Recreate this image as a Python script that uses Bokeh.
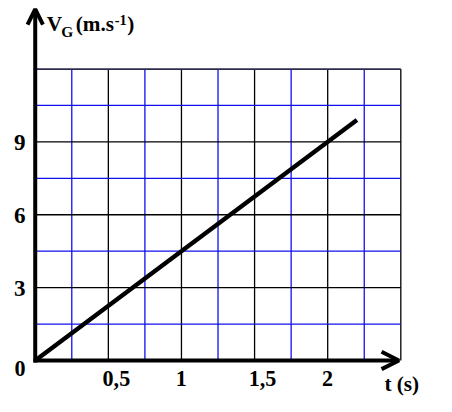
from bokeh.plotting import figure
from bokeh.models import Range1d, Arrow, OpenHead
from bokeh.core.properties import value
from bokeh.embed import file_html
from bokeh.resources import INLINE

# ---- data ----
t_line = [0.0, 2.2]
v_line = [0.0, 9.9]
t_grid = [0.25, 0.5, 0.75, 1.0, 1.25, 1.5, 1.75, 2.0, 2.25, 2.5]
v_grid = [1.5, 3.0, 4.5, 6.0, 7.5, 9.0, 10.5, 12.0]
x_tick_values = [0.5, 1.0, 1.5, 2.0]
x_tick_labels = ["0,5", "1", "1,5", "2"]
y_tick_values = [3.0, 6.0, 9.0]
y_tick_labels = ["3", "6", "9"]
origin_label = "0"
x_title = "t (s)"
y_title_parts = ["V", "G", "(m.s", "-1", ")"]
t_max = 2.5
v_max = 12.0
t_arrow_tip = 2.487
v_arrow_tip = 14.466

W, H = 436, 396
SX, SY = W / 452.0, H / 412.0
K = (SX + SY) / 2.0

def fs(px):
    return "%.1fpx" % (px * K)

FONT = value("Liberation Serif")
BLUE = "#1010ee"

p = figure(width=W, height=H, output_backend="svg", toolbar_location=None,
           x_range=Range1d(-0.23747, 2.74406), y_range=Range1d(-1.4841, 14.822),
           x_axis_type=None, y_axis_type=None, min_border=0)
p.outline_line_color = None
p.xgrid.visible = False
p.ygrid.visible = False
p.background_fill_color = "white"
p.border_fill_color = "white"

# vertical grid lines
vx = t_grid
vcol = ["#000000" if abs((t / 0.5) - round(t / 0.5)) < 1e-9 else BLUE for t in vx]
p.segment(x0=vx, y0=[0.0] * len(vx), x1=vx, y1=[v_max] * len(vx),
          line_color=vcol, line_width=1.3)

# horizontal grid lines
hy = v_grid
hcol = []
for v in hy:
    if v == v_max:
        hcol.append("#2c2c50")
    elif abs((v / 3.0) - round(v / 3.0)) < 1e-9:
        hcol.append("#000000")
    else:
        hcol.append(BLUE)
p.segment(x0=[0.0] * len(hy), y0=hy, x1=[t_max] * len(hy), y1=hy,
          line_color=hcol, line_width=[1.8 if v == v_max else 1.3 for v in hy])

# data line
p.line(t_line, v_line, line_color="black", line_width=4.4)

# axes with arrows
p.add_layout(Arrow(end=OpenHead(size=18 * K, line_width=4, line_color="black"),
                   x_start=-0.012, y_start=0.0, x_end=t_arrow_tip, y_end=0.0,
                   line_width=4, line_color="black"))
p.add_layout(Arrow(end=OpenHead(size=16 * K, line_width=4, line_color="black"),
                   x_start=0.0, y_start=-0.08, x_end=0.0, y_end=v_arrow_tip,
                   line_width=4, line_color="black"))

common = dict(text_font=FONT, text_font_style="bold", text_color="black",
              text_baseline="middle")

# x tick labels
p.text(x=x_tick_values, y=[0.0] * len(x_tick_values), text=x_tick_labels,
       text_font_size=fs(23), text_align="left",
       x_offset=-6 * SX, y_offset=18.7 * SY, **common)
# y tick labels
p.text(x=[0.0] * len(y_tick_values), y=y_tick_values, text=y_tick_labels,
       text_font_size=fs(24), text_align="right",
       x_offset=-10 * SX, y_offset=1 * SY, **common)
# origin
p.text(x=[0.0], y=[0.0], text=[origin_label], text_font_size=fs(23),
       text_align="right", x_offset=-10 * SX, y_offset=8.7 * SY, **common)
# x title
p.text(x=[t_max], y=[0.0], text=[x_title], text_font_size=fs(22),
       text_align="left", x_offset=-17 * SX, y_offset=24.0 * SY, **common)

# y title pieces
piece_style = [
    (12, -46.8, 22),
    (27, -38.7, 16),
    (42, -46.8, 22),
    (82.5, -51.4, 15),
    (95.5, -46.8, 22),
]
for txt, (dx, dy, size) in zip(y_title_parts, piece_style):
    p.text(x=[0.0], y=[v_max], text=[txt], text_font_size=fs(size),
           text_align="left", x_offset=dx * SX, y_offset=dy * SY, **common)

open("out.html", "w").write(file_html(p, INLINE))
